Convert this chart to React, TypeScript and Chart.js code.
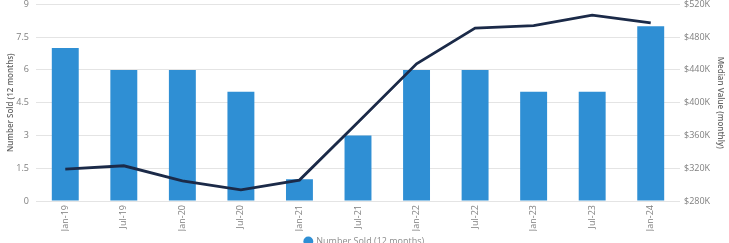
import React, { useEffect, useRef } from "react";
import { Chart, registerables } from "chart.js";

Chart.register(...registerables);

const categories = ["Jan-19", "Jul-19", "Jan-20", "Jul-20", "Jan-21", "Jul-21", "Jan-22", "Jul-22", "Jan-23", "Jul-23", "Jan-24"];
const numberSold = [7, 6, 6, 5, 1, 3, 6, 6, 5, 5, 8];
const medianValue = [319000, 323000, 304500, 293500, 305500, 376000, 447500, 491000, 494000, 507000, 497500];
const leftTicks = [0, 1.5, 3, 4.5, 6, 7.5, 9];
const rightTicks = [280000, 320000, 360000, 400000, 440000, 480000, 520000];

const FONT = "'Open Sans', 'DejaVu Sans', sans-serif";

export default function App() {
  const ref = useRef<HTMLCanvasElement | null>(null);

  useEffect(() => {
    document.body.style.margin = "0";
    const canvas = ref.current;
    if (!canvas) return;
    const chart = new Chart(canvas, {
      type: "bar",
      data: {
        labels: categories,
        datasets: [
          {
            type: "line",
            label: "Median Value (monthly)",
            data: medianValue,
            yAxisID: "y1",
            borderColor: "#1b2a48",
            backgroundColor: "#1b2a48",
            borderWidth: 2.8,
            pointRadius: 0,
            tension: 0,
            order: 0,
          },
          {
            type: "bar",
            label: "Number Sold (12 months)",
            data: numberSold,
            yAxisID: "y",
            backgroundColor: "#2f8fd4",
            borderWidth: 0,
            categoryPercentage: 1,
            barPercentage: 0.46,
            order: 1,
          },
        ],
      },
      options: {
        animation: false,
        responsive: false,
        maintainAspectRatio: false,
        layout: { padding: { top: 0, left: 0, right: 0, bottom: 0 } },
        plugins: {
          tooltip: { enabled: false },
          legend: {
            position: "bottom",
            labels: {
              filter: (item) => item.datasetIndex === 1,
              usePointStyle: true,
              pointStyle: "circle",
              boxWidth: 7,
              boxHeight: 7,
              padding: 6,
              color: "#8c8c8c",
              font: { family: FONT, size: 9 },
            },
          },
        },
        scales: {
          x: {
            offset: true,
            grid: { display: false, drawTicks: false },
            border: { display: false },
            ticks: {
              minRotation: 90,
              maxRotation: 90,
              autoSkip: false,
              padding: 4,
              color: "#7f7f7f",
              font: { family: FONT, size: 9 },
            },
            afterFit: (s: any) => {
              s.height = 30;
            },
          },
          y: {
            position: "left",
            min: 0,
            max: 9,
            afterBuildTicks: (s: any) => {
              s.ticks = leftTicks.map((v) => ({ value: v }));
            },
            grid: { color: "#e4e4e4", drawTicks: false, lineWidth: 1 },
            border: { display: false },
            ticks: {
              padding: 7,
              color: "#7f7f7f",
              font: { family: FONT, size: 9 },
              callback: (v: any) => String(v),
            },
            title: {
              display: true,
              text: "Number Sold (12 months)",
              color: "#666666",
              padding: { top: 6, bottom: 0 },
              font: { family: FONT, size: 8, weight: "600" },
            },
            afterFit: (s: any) => {
              s.width = 36;
            },
          },
          y1: {
            position: "right",
            min: 280000,
            max: 520000,
            afterBuildTicks: (s: any) => {
              s.ticks = rightTicks.map((v) => ({ value: v }));
            },
            grid: { display: false, drawTicks: false },
            border: { display: false },
            ticks: {
              padding: 4,
              color: "#7f7f7f",
              font: { family: FONT, size: 9 },
              callback: (v: any) => "$" + Math.round(Number(v) / 1000) + "K",
            },
            title: {
              display: true,
              text: "Median Value (monthly)",
              color: "#666666",
              padding: { top: 4, bottom: 0 },
              font: { family: FONT, size: 8, weight: "600" },
            },
            afterFit: (s: any) => {
              s.width = 49;
            },
          },
        },
      },
    });
    return () => chart.destroy();
  }, []);

  return (
    <div style={{ width: 729, height: 256, marginTop: -8 }}>
      <canvas ref={ref} width={729} height={264} style={{ display: "block", width: 729, height: 264 }} />
    </div>
  );
}
